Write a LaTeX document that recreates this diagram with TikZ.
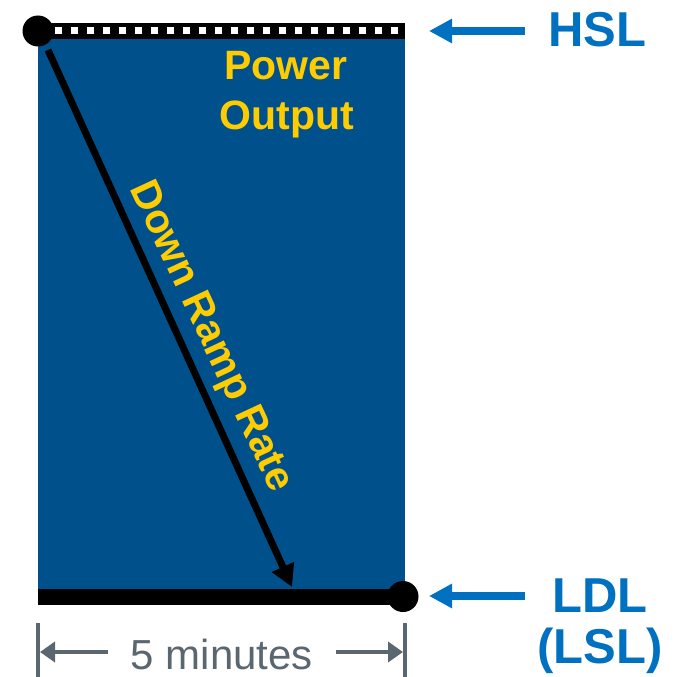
\documentclass[tikz,border=0pt]{standalone}
\usepackage{fontspec}
\setmainfont{Liberation Sans}
\usetikzlibrary{arrows.meta}
\definecolor{panelblue}{RGB}{0,80,140}
\definecolor{labelblue}{RGB}{0,112,192}
\definecolor{textyellow}{RGB}{255,204,0}
\definecolor{dimgrey}{RGB}{91,103,112}
\begin{document}
\begin{tikzpicture}[x=1pt,y=-1pt,
  lbl/.style={font=\fontsize{49}{52}\selectfont\bfseries, text=labelblue, inner sep=0pt, anchor=base},
  ylbl/.style={font=\fontsize{41}{46}\selectfont\bfseries, text=textyellow, inner sep=0pt},
  bluearrow/.style={draw=labelblue, line width=8pt, -{Triangle[length=23pt,width=23pt]}},
  dimarrow/.style={draw=dimgrey, line width=4pt, -{Triangle[length=15pt,width=20pt]}},
  dimtick/.style={draw=dimgrey, line width=3.5pt},
  bar/.style={draw=black, line width=16pt},
  dot/.style={circle, fill=black, inner sep=0pt, minimum size=31pt}
]
\useasboundingbox (0,0) rectangle (675,677);
% panel
\fill[panelblue] (38,31) rectangle (405,597);
% top bar (HSL)
\draw[bar] (38,31) -- (405,31);
\foreach \k in {0,...,21} {
  \fill[white] ({55+16*\k},27.5) rectangle +(7,7);
}
% bottom bar (LDL)
\draw[bar] (38,596.5) -- (403,596.5);
% dots
\node[dot] (top) at (38,31) {};
\node[dot] (bot) at (403,596.5) {};
% ramp arrow
\coordinate (rs) at (48,50);
\coordinate (re) at (292,587);
\draw[line width=7pt, -{Triangle[length=22pt,width=23pt]}] (rs) -- (re);
% texts in panel
\node[ylbl, anchor=base] (pw) at (286,80) {Power};
\node[ylbl, anchor=base] (out) at (287,129) {Output};
\node[ylbl, rotate=-65, anchor=center] (ramp) at (210,337) {Down Ramp Rate};
% labels
\node[lbl] (hsl) at (597,47) {HSL};
\node[lbl] (ldl) at (600,612) {LDL};
\node[lbl] (lsl) at (600,663) {(LSL)};
\coordinate (ha) at (525,31);
\coordinate (hb) at (429,31);
\coordinate (la) at (525,596);
\coordinate (lb) at (429,596);
\draw[bluearrow] (ha) -- (hb);
\draw[bluearrow] (la) -- (lb);
% dimension
\coordinate (t1a) at (38,623);
\coordinate (t1b) at (38,677);
\coordinate (t2a) at (405,623);
\coordinate (t2b) at (405,677);
\draw[dimtick] (t1a) -- (t1b);
\draw[dimtick] (t2a) -- (t2b);
\node[font=\fontsize{42}{46}\selectfont, text=dimgrey, inner sep=0pt, anchor=base] (dim) at (222,669) {5 minutes};
\coordinate (d1) at (108,652);
\coordinate (d1t) at (40,652);
\coordinate (d2) at (336,652);
\coordinate (d2t) at (403,652);
\draw[dimarrow] (d1) -- (d1t);
\draw[dimarrow] (d2) -- (d2t);
\end{tikzpicture}
\end{document}
